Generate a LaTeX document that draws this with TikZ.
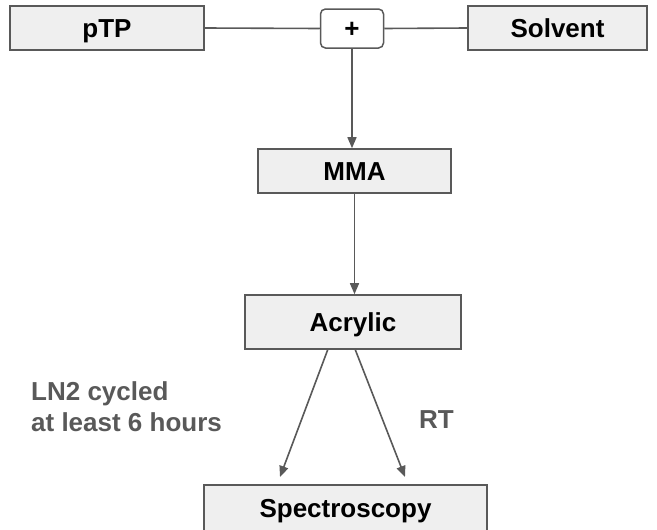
\documentclass[tikz,border=0pt]{standalone}
\usepackage{fontspec}
\setmainfont{Liberation Sans}
\usetikzlibrary{arrows.meta}
\definecolor{edgegray}{HTML}{595959}
\definecolor{boxfill}{HTML}{EFEFEF}
\definecolor{labelgray}{HTML}{595959}
\begin{document}
\begin{tikzpicture}[x=1pt,y=-1pt,
  stepbox/.style={draw=edgegray,fill=boxfill,line width=1.6pt,inner sep=0pt,
    text height=18.6pt,text depth=0pt,
    font=\fontsize{26}{31}\selectfont\bfseries,text=black},
  plusbox/.style={draw=edgegray,fill=white,line width=1.5pt,rounded corners=5pt,inner sep=0pt,
    text height=18.6pt,text depth=0pt,
    font=\fontsize{26}{31}\selectfont\bfseries,text=black},
  conn/.style={draw=edgegray,line width=1.6pt},
  arr/.style={conn,-{Triangle[length=11pt,width=9pt]}},
  lbl/.style={text=labelgray,inner sep=0pt,font=\fontsize{26}{31}\selectfont\bfseries}]
\useasboundingbox (0,0) rectangle (657,530);
\node[stepbox,minimum width=194pt,minimum height=44pt] (ptp) at (107,28) {pTP};
\node[plusbox,minimum width=63pt,minimum height=39pt] (plus) at (352,28.5) {+};
\node[stepbox,minimum width=179pt,minimum height=44pt] (solv) at (557.5,28) {Solvent};
\node[stepbox,minimum width=193pt,minimum height=44pt] (mma) at (354.5,171) {MMA};
\node[stepbox,minimum width=216pt,minimum height=54pt] (acr) at (353,322) {Acrylic};
\node[stepbox,minimum width=283pt,minimum height=46pt] (spec) at (345.5,508) {Spectroscopy};
\coordinate (a1) at (328,349);
\coordinate (a2) at (355,349);
\coordinate (t1) at (280,477);
\coordinate (t2) at (405,477);
\draw[conn] (ptp.east) -- (plus.west);
\draw[conn] (plus.east) -- (solv.west);
\draw[arr] (plus.south) -- (plus.south |- mma.north);
\draw[arr] (mma.south) -- (mma.south |- acr.north);
\draw[arr] (a1) -- (t1);
\draw[arr] (a2) -- (t2);
\node[lbl,anchor=base west,align=left] (ln2) at (31,431) {LN2 cycled\\at least 6 hours};
\node[lbl,anchor=base west] (rt) at (419,428) {RT};
\end{tikzpicture}
\end{document}
